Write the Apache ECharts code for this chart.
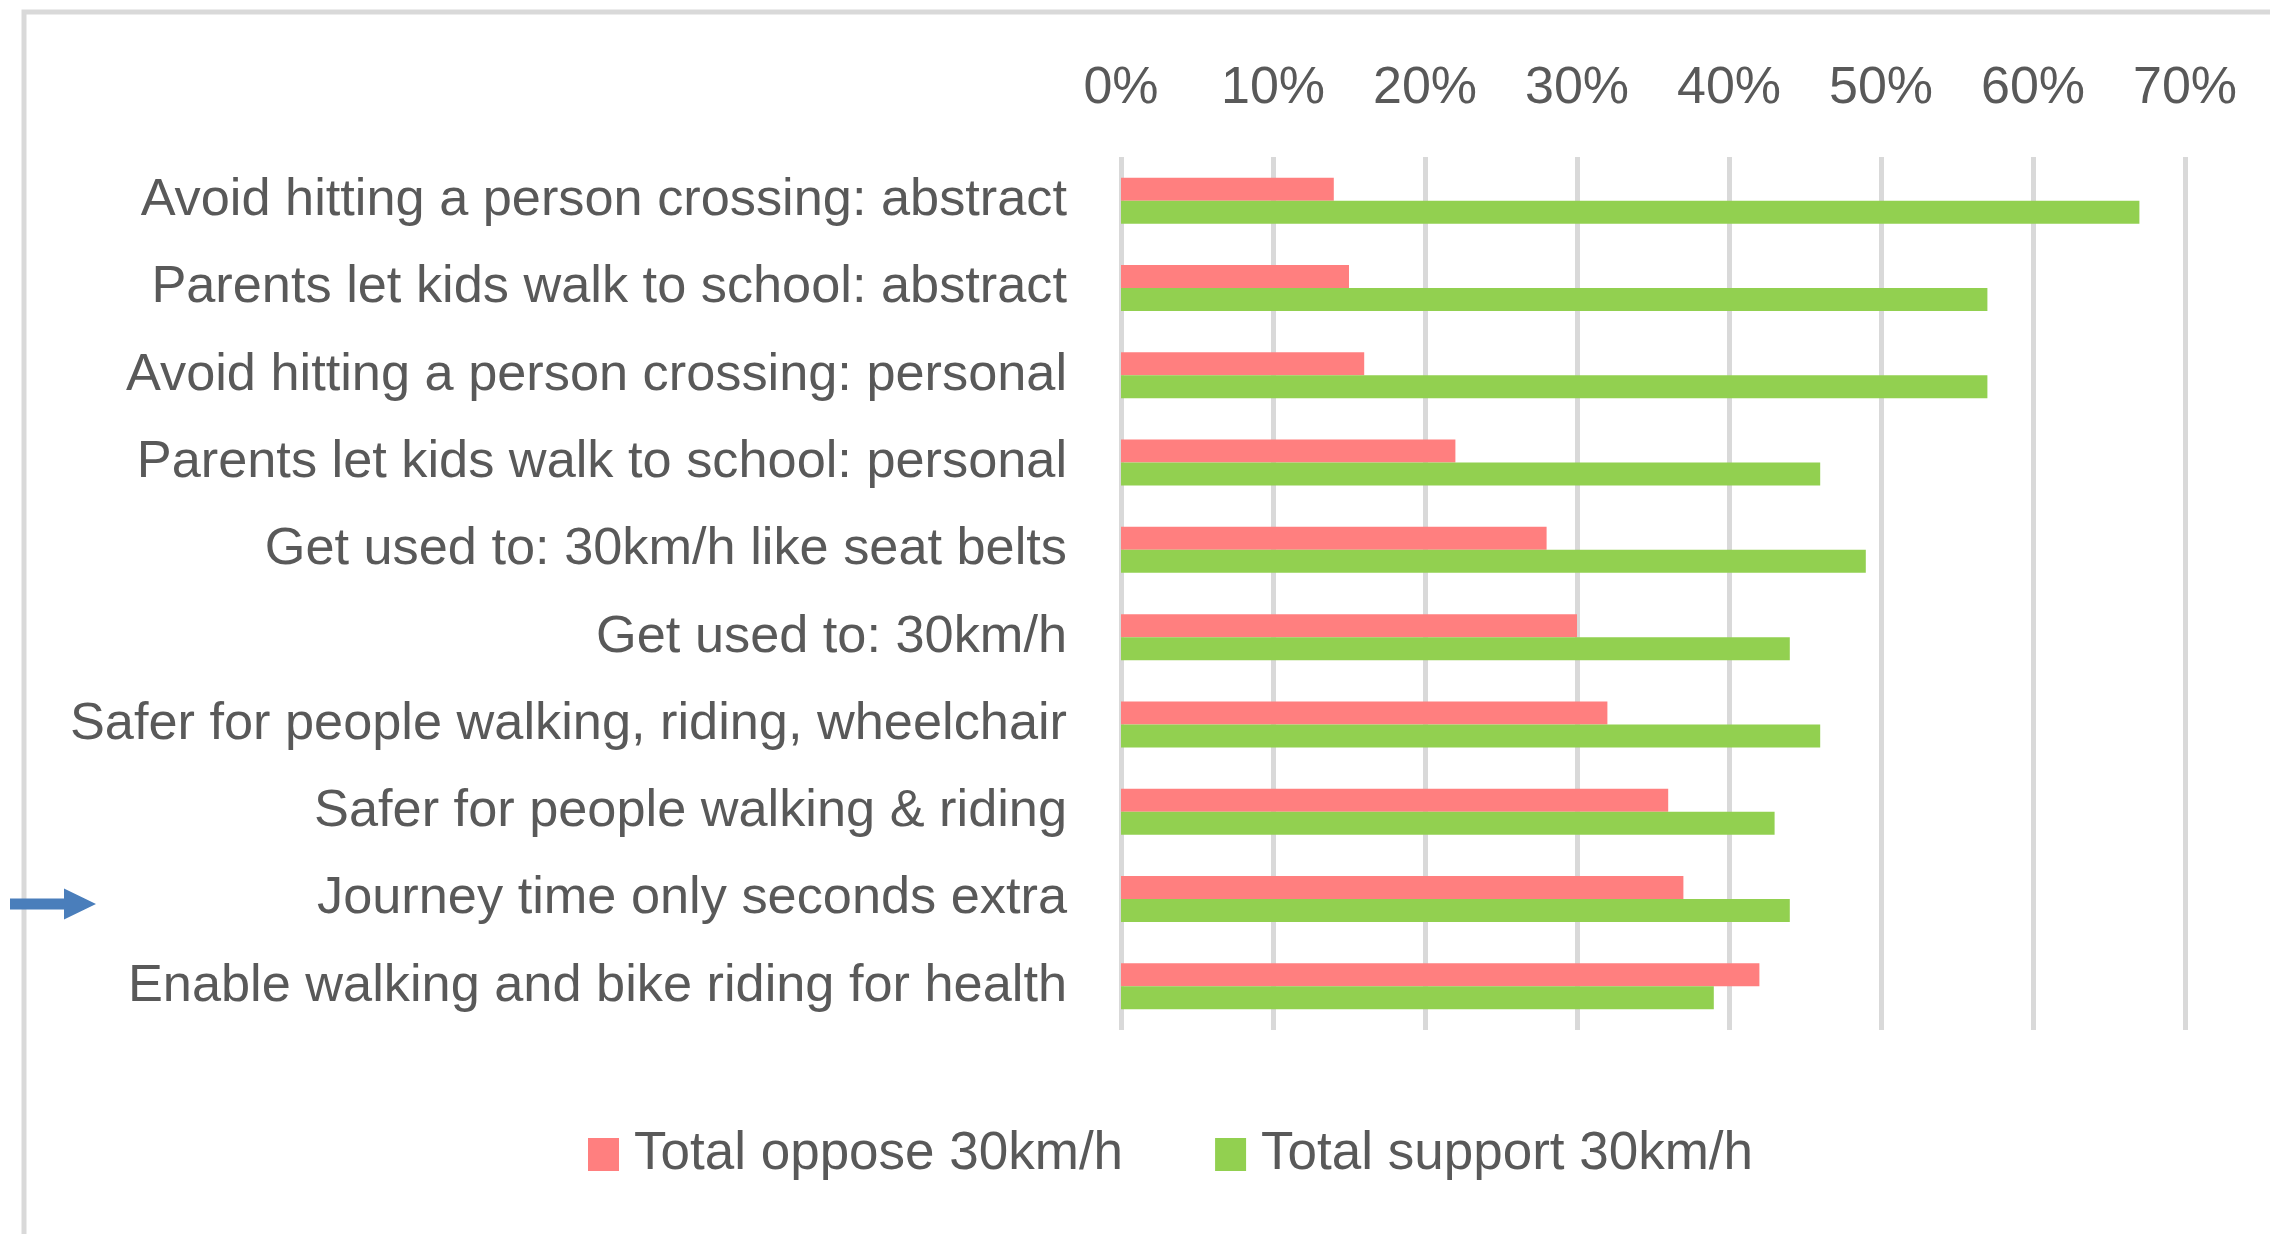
<!DOCTYPE html>
<html>
<head>
<meta charset="utf-8">
<script src="https://cdn.jsdelivr.net/npm/echarts@6/dist/echarts.min.js"></script>
<style>
  html, body { margin: 0; padding: 0; background: #ffffff; }
  #chart { width: 2270px; height: 1234px; }
</style>
</head>
<body>
<div id="chart"></div>
<script>
// Survey statements, listed top to bottom
const categories = [
  'Avoid hitting a person crossing: abstract',
  'Parents let kids walk to school: abstract',
  'Avoid hitting a person crossing: personal',
  'Parents let kids walk to school: personal',
  'Get used to: 30km/h like seat belts',
  'Get used to: 30km/h',
  'Safer for people walking, riding, wheelchair',
  'Safer for people walking & riding',
  'Journey time only seconds extra',
  'Enable walking and bike riding for health'
];

// Share of respondents (%)
const opposeValues  = [14, 15, 16, 22, 28, 30, 32, 36, 37, 42];
const supportValues = [67, 57, 57, 46, 49, 44, 46, 43, 44, 39];

const seriesNames = ['Total oppose 30km/h', 'Total support 30km/h'];

// Statement marked with an arrow
const highlighted = 'Journey time only seconds extra';

const FONT = 'Liberation Sans';
const TEXT_COLOR = '#595959';

const chart = echarts.init(document.getElementById('chart'), null, { renderer: 'canvas' });

const option = {
  animation: false,
  backgroundColor: '#ffffff',
  textStyle: { fontFamily: FONT },
  grid: { left: 1121, right: 85, top: 157, bottom: 204, containLabel: false },
  legend: {
    left: 583,
    top: 1123,
    itemWidth: 31,
    itemHeight: 33,
    itemGap: 92,
    icon: 'rect',
    textStyle: { fontFamily: FONT, fontSize: 53, color: TEXT_COLOR, padding: [0, 0, 0, 10] },
    data: seriesNames
  },
  xAxis: {
    type: 'value',
    position: 'top',
    min: 0,
    max: 70,
    interval: 10,
    axisLine: { show: false },
    axisTick: { show: false },
    axisLabel: {
      formatter: '{value}%',
      fontFamily: FONT,
      fontSize: 52,
      color: TEXT_COLOR,
      margin: 42
    },
    splitLine: { show: true, lineStyle: { color: '#d9d9d9', width: 5 } }
  },
  yAxis: {
    type: 'category',
    inverse: true,
    data: categories,
    axisLine: { show: false },
    axisTick: { show: false },
    axisLabel: {
      fontFamily: FONT,
      fontSize: 52.3,
      color: TEXT_COLOR,
      margin: 54,
      padding: [6, 0, 0, 0]
    }
  },
  series: [
    {
      name: seriesNames[0],
      type: 'bar',
      data: opposeValues,
      barWidth: 23,
      barGap: '0%',
      itemStyle: { color: '#ff7f7f' }
    },
    {
      name: seriesNames[1],
      type: 'bar',
      data: supportValues,
      barWidth: 23,
      barGap: '0%',
      itemStyle: { color: '#92d050' }
    }
  ]
};

chart.setOption(option);

// Outer chart-area frame and the pointer arrow beside the highlighted statement
const rowY = chart.convertToPixel({ yAxisIndex: 0 }, highlighted) + 5;
chart.setOption({
  graphic: [
    {
      type: 'rect',
      shape: { x: 24, y: 12, width: 2400, height: 1400 },
      style: { fill: 'none', stroke: '#d9d9d9', lineWidth: 5 },
      silent: true
    },
    {
      type: 'polygon',
      shape: {
        points: [
          [10, rowY - 5.5], [64, rowY - 5.5], [64, rowY - 15.5],
          [96, rowY], [64, rowY + 15.5], [64, rowY + 5.5], [10, rowY + 5.5]
        ]
      },
      style: { fill: '#4a7ebb' },
      silent: true
    }
  ]
});
</script>
</body>
</html>
